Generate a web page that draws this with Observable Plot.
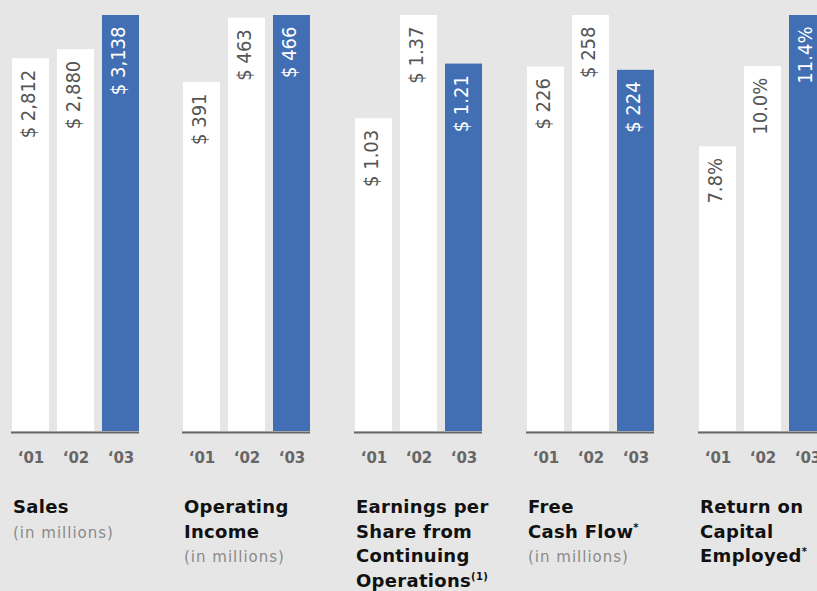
<!DOCTYPE html>
<html>
<head>
<meta charset="utf-8">
<script src="https://cdn.jsdelivr.net/npm/d3@7"></script>
<script src="https://cdn.jsdelivr.net/npm/@observablehq/plot@0.6"></script>
<style>
  html, body { margin: 0; padding: 0; background: #e6e6e6; }
  #wrap { position: relative; width: 817px; height: 591px; overflow: hidden; background: #e6e6e6; font-family: "DejaVu Sans", sans-serif; }
  .panel { position: absolute; top: 0; width: 172px; }
  .panel svg { max-width: none !important; }
  .title { position: absolute; top: 495px; font-family: "DejaVu Sans", sans-serif; font-weight: bold; font-size: 18px; line-height: 24.5px; color: #111; letter-spacing: 0.3px; white-space: nowrap; }
  .title .sub { font-weight: normal; font-size: 15px; color: #8a8a8a; letter-spacing: 1px; }
  .title sup { font-size: 10px; line-height: 0; vertical-align: 7px; }
</style>
</head>
<body>
<div id="wrap"></div>
<script>
const years = ["‘01", "‘02", "‘03"];

const salesValues = [2812, 2880, 3138];
const operatingIncomeValues = [391, 463, 466];
const epsValues = [1.03, 1.37, 1.21];
const freeCashFlowValues = [226, 258, 224];
const roceValues = [7.8, 10.0, 11.4];

const panelTitles = [
  "Sales",
  "Operating<br>Income",
  "Earnings per<br>Share from<br>Continuing<br>Operations<sup>(1)</sup>",
  "Free<br>Cash Flow<sup>*</sup>",
  "Return on<br>Capital<br>Employed<sup>*</sup>"
];
const panelSubtitles = ["(in millions)", "(in millions)", "", "(in millions)", ""];

const fmtMoney0 = v => "$ " + d3.format(",")(v);
const fmtMoney2 = v => "$ " + d3.format(".2f")(v);
const fmtPct = v => d3.format(".1f")(v) + "%";

const panels = [
  {values: salesValues, fmt: fmtMoney0},
  {values: operatingIncomeValues, fmt: fmtMoney0},
  {values: epsValues, fmt: fmtMoney2},
  {values: freeCashFlowValues, fmt: fmtMoney0},
  {values: roceValues, fmt: fmtPct}
];

const panelLefts = [0, 171, 343, 515, 687];
const blue = "#426eb4";
const wrap = document.getElementById("wrap");

panels.forEach((p, i) => {
  const data = years.map((y, j) => ({year: y, value: p.values[j]}));
  const cur = years[2];
  const chart = Plot.plot({
    width: 172,
    height: 470,
    marginLeft: 11,
    marginRight: 33,
    marginTop: 15,
    marginBottom: 39,
    style: {background: "transparent", overflow: "visible"},
    x: {domain: years, paddingInner: 0.187, paddingOuter: 0, label: null},
    y: {domain: [0, d3.max(p.values)], axis: null},
    marks: [
      Plot.barY(data, {filter: d => d.year !== cur, x: "year", y: "value", fill: "white"}),
      Plot.barY(data, {filter: d => d.year === cur, x: "year", y: "value", fill: blue}),
      Plot.ruleY([0], {stroke: "#666", strokeWidth: 2, dy: 1}),
      Plot.text(data, {
        x: "year", y: "value", text: d => p.fmt(d.value),
        rotate: -90, textAnchor: "end", dy: 11, dx: -2,
        fill: d => d.year === cur ? "white" : "#555",
        fontSize: 20, fontFamily: "DejaVu Sans Condensed", fontStretch: "condensed"
      }),
      Plot.axisX({tickSize: 0, tickPadding: 21, fontSize: 15, fontWeight: "bold", fill: "#666", label: null, fontFamily: "DejaVu Sans"})
    ]
  });
  const div = document.createElement("div");
  div.className = "panel";
  div.style.left = panelLefts[i] + "px";
  div.appendChild(chart);
  wrap.appendChild(div);

  const t = document.createElement("div");
  t.className = "title";
  t.style.left = (panelLefts[i] + 13) + "px";
  t.innerHTML = panelTitles[i] + (panelSubtitles[i] ? "<br><span class='sub'>" + panelSubtitles[i] + "</span>" : "");
  wrap.appendChild(t);
});
</script>
</body>
</html>
